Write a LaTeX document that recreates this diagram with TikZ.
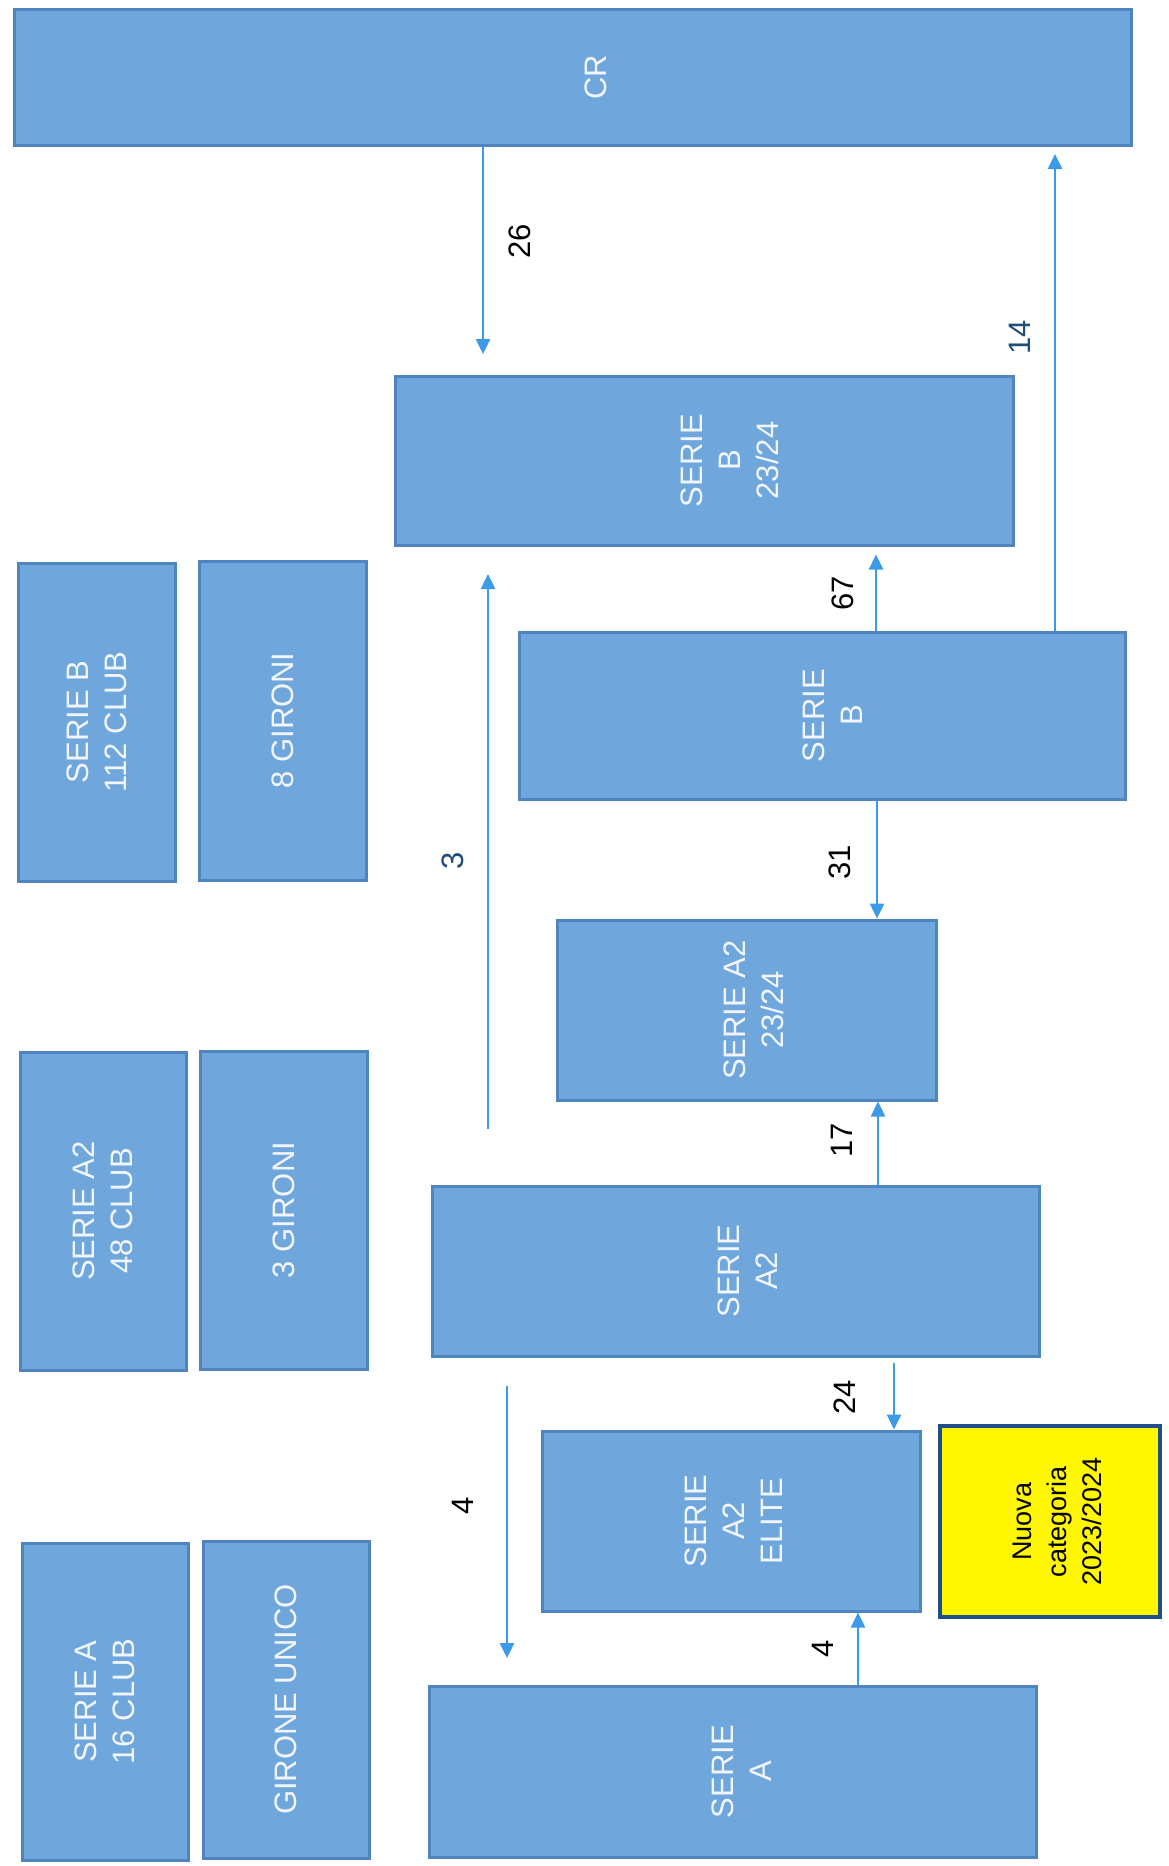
\documentclass[tikz,border=0pt]{standalone}
\usepackage{fontspec}
\setmainfont{Liberation Sans}
\usetikzlibrary{arrows.meta}
\definecolor{boxfill}{HTML}{6FA7DD}
\definecolor{boxline}{HTML}{4F84C0}
\definecolor{boxtext}{HTML}{F2F6FC}
\definecolor{arrblue}{HTML}{3C9AE8}
\definecolor{lblblue}{HTML}{1F4E79}
\definecolor{newfill}{HTML}{FFF700}
\definecolor{newline}{HTML}{1F4E8A}
\tikzset{
  bbox/.style={draw=boxline, fill=boxfill, line width=3pt, inner sep=0pt, rectangle},
  txt/.style={rotate=90, text=boxtext, align=center, inner sep=0pt, font=\fontsize{31}{38}\selectfont},
  lbl/.style={rotate=90, text=black, inner sep=0pt, font=\fontsize{31}{38}\selectfont},
  lblb/.style={lbl, text=lblblue},
  arr/.style={draw=arrblue, line width=2.5pt, -{Triangle[length=15pt,width=14pt]}},
}
\begin{document}
\begin{tikzpicture}[x=1pt,y=-1pt]
\useasboundingbox[fill=white] (0,0) rectangle (1168,1866);
% main boxes
\node[bbox, minimum width=1117pt, minimum height=136pt] (cr) at (572.5,77) {};
\node[bbox, minimum width=618pt, minimum height=169pt] (sb24) at (704,460.5) {};
\node[bbox, minimum width=606pt, minimum height=167pt] (sb) at (822,715.5) {};
\node[bbox, minimum width=379pt, minimum height=180pt] (sa224) at (746.5,1010) {};
\node[bbox, minimum width=607pt, minimum height=170pt] (sa2) at (735.5,1271) {};
\node[bbox, minimum width=378pt, minimum height=180pt] (elite) at (731,1521) {};
\node[draw=newline, fill=newfill, line width=4.5pt, inner sep=0pt, minimum width=220pt, minimum height=191pt] (nuova) at (1050,1521.5) {};
\node[bbox, minimum width=607pt, minimum height=171pt] (sa) at (732.5,1771.5) {};
% left column
\node[bbox, minimum width=157pt, minimum height=318pt] (l1) at (96.5,722) {};
\node[bbox, minimum width=167pt, minimum height=319pt] (l2) at (282.5,720.5) {};
\node[bbox, minimum width=166pt, minimum height=318pt] (l3) at (103,1211) {};
\node[bbox, minimum width=167pt, minimum height=318pt] (l4) at (283.5,1210) {};
\node[bbox, minimum width=166pt, minimum height=317pt] (l5) at (105,1701.5) {};
\node[bbox, minimum width=166pt, minimum height=317pt] (l6) at (286,1699.5) {};
% texts
\node[txt] (crt) at ([xshift=23pt]cr.center) {CR};
\node[txt] (sb24t) at ([xshift=26pt]sb24.center) {SERIE\\B\\23/24};
\node[txt] (sbt) at ([xshift=11pt]sb.center) {SERIE\\B};
\node[txt] (sa224t) at ([xshift=7pt]sa224.center) {SERIE A2\\23/24};
\node[txt] (sa2t) at ([xshift=12pt]sa2.center) {SERIE\\A2};
\node[txt] (elitet) at ([xshift=3pt]elite.center) {SERIE\\A2\\ELITE};
\node[lbl, align=center, font=\fontsize{27}{35}\selectfont] (nuovat) at ([xshift=7pt]nuova.center) {Nuova\\categoria\\2023/2024};
\node[txt] (sat) at ([xshift=9pt]sa.center) {SERIE\\A};
\node[txt] (l1t) at (l1.center) {SERIE B\\112 CLUB};
\node[txt] (l2t) at (l2.center) {8 GIRONI};
\node[txt] (l3t) at (l3.center) {SERIE A2\\48 CLUB};
\node[txt] (l4t) at (l4.center) {3 GIRONI};
\node[txt] (l5t) at (l5.center) {SERIE A\\16 CLUB};
\node[txt] (l6t) at (l6.center) {GIRONE UNICO};
% free arrow ends
\coordinate (t26) at (483,354);
\coordinate (t14) at (1055,154);
\coordinate (s3) at (488,1129);
\coordinate (t3) at (488,574);
\coordinate (x67) at (876,0);
\coordinate (x31) at (877,0);
\coordinate (x17) at (878,0);
\coordinate (s24) at (894,1363);
\coordinate (s4) at (507,1386);
\coordinate (t4) at (507,1658);
\coordinate (x4r) at (858,0);
% arrows
\draw[arr] (cr.south -| t26) -- (t26);
\draw[arr] (sb.north -| t14) -- (t14);
\draw[arr] (s3) -- (t3);
\draw[arr, shorten >=8pt] (sb.north -| x67) -- (sb24.south -| x67);
\draw[arr] (sb.south -| x31) -- (sa224.north -| x31);
\draw[arr] (sa2.north -| x17) -- (sa224.south -| x17);
\draw[arr] (s24) -- (elite.north -| s24);
\draw[arr] (s4) -- (t4);
\draw[arr] (sa.north -| x4r) -- (elite.south -| x4r);
% labels
\node[lbl] (n26) at (520,241) {26};
\node[lblb] (n14) at (1020,337) {14};
\node[lblb] (n3) at (453,861) {3};
\node[lbl] (n67) at (843,593) {67};
\node[lbl] (n31) at (840,862) {31};
\node[lbl] (n17) at (842,1140) {17};
\node[lbl] (n24) at (845,1397) {24};
\node[lbl] (n4l) at (463,1506) {4};
\node[lbl] (n4r) at (823,1649) {4};
\end{tikzpicture}
\end{document}
